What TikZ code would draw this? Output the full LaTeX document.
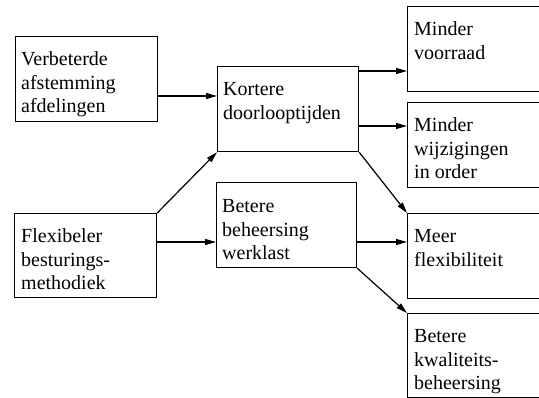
\documentclass[tikz,border=0pt]{standalone}
\usepackage{fontspec}
\setmainfont{Liberation Serif}
\usetikzlibrary{arrows.meta}
% stacked lines, baseline taken from the first line
\newcommand\boxlines[1]{\begin{tabular}[t]{@{}l@{}}#1\end{tabular}}
\begin{document}
\begin{tikzpicture}[x=1pt,y=-1pt,
  box/.style={draw,line width=1.2pt,rectangle,inner sep=0pt,anchor=north west},
  txt/.style={inner sep=0pt,anchor=base west,
    font=\fontsize{20}{23.5}\selectfont},
  arr/.style={line width=1.2pt,-{Triangle[length=11pt,width=6pt]}}]
\clip (0,0) rectangle (539,398);
\fill[white] (0,0) rectangle (539,398);
% boxes
\node[box,minimum width=142pt,minimum height=85pt] (A) at (15,36) {};
\node[box,minimum width=142pt,minimum height=84pt] (B) at (14,213) {};
\node[box,minimum width=141pt,minimum height=85pt] (K) at (217,66) {};
\node[box,minimum width=140pt,minimum height=85pt] (W) at (216,182) {};
\node[box,minimum width=160pt,minimum height=85pt] (R1) at (407,6) {};
\node[box,minimum width=160pt,minimum height=85pt] (R2) at (407,102) {};
\node[box,minimum width=160pt,minimum height=85pt] (R3) at (407,213) {};
\node[box,minimum width=160pt,minimum height=84pt] (R4) at (407,313) {};
% labels
\node[txt] (tA) at ([xshift=6pt,yshift=-30pt]A.north west) {\boxlines{Verbeterde\\afstemming\\afdelingen}};
\node[txt] (tB) at ([xshift=7pt,yshift=-30pt]B.north west) {\boxlines{Flexibeler\\besturings-\\methodiek}};
\node[txt] (tK) at ([xshift=6pt,yshift=-30pt]K.north west) {\boxlines{Kortere\\doorlooptijden}};
\node[txt] (tW) at ([xshift=6pt,yshift=-31pt]W.north west) {\boxlines{Betere\\beheersing\\werklast}};
\node[txt] (t1) at ([xshift=7pt,yshift=-30pt]R1.north west) {\boxlines{Minder\\voorraad}};
\node[txt] (t2) at ([xshift=7pt,yshift=-30pt]R2.north west) {\boxlines{Minder\\wijzigingen\\in order}};
\node[txt] (t3) at ([xshift=7pt,yshift=-30pt]R3.north west) {\boxlines{Meer\\flexibiliteit}};
\node[txt] (t4) at ([xshift=7pt,yshift=-30pt]R4.north west) {\boxlines{Betere\\kwaliteits-\\beheersing}};
% connectors
\draw[arr] ([yshift=-60pt]A.north east) -- ([yshift=-30pt]K.north west);
\draw[arr] (B.north east) -- (K.south west);
\draw[arr] ([yshift=-29pt]B.north east) -- ([yshift=-60pt]W.north west);
\draw[arr] ([yshift=-5pt]K.north east) -- ([yshift=-65pt]R1.north west);
\draw[arr] ([yshift=-60pt]K.north east) -- ([yshift=-24pt]R2.north west);
\draw[arr] (K.south east) -- (R3.north west);
\draw[arr] ([yshift=-60pt]W.north east) -- ([yshift=-29pt]R3.north west);
\draw[arr] (W.south east) -- (R4.north west);
\end{tikzpicture}
\end{document}
